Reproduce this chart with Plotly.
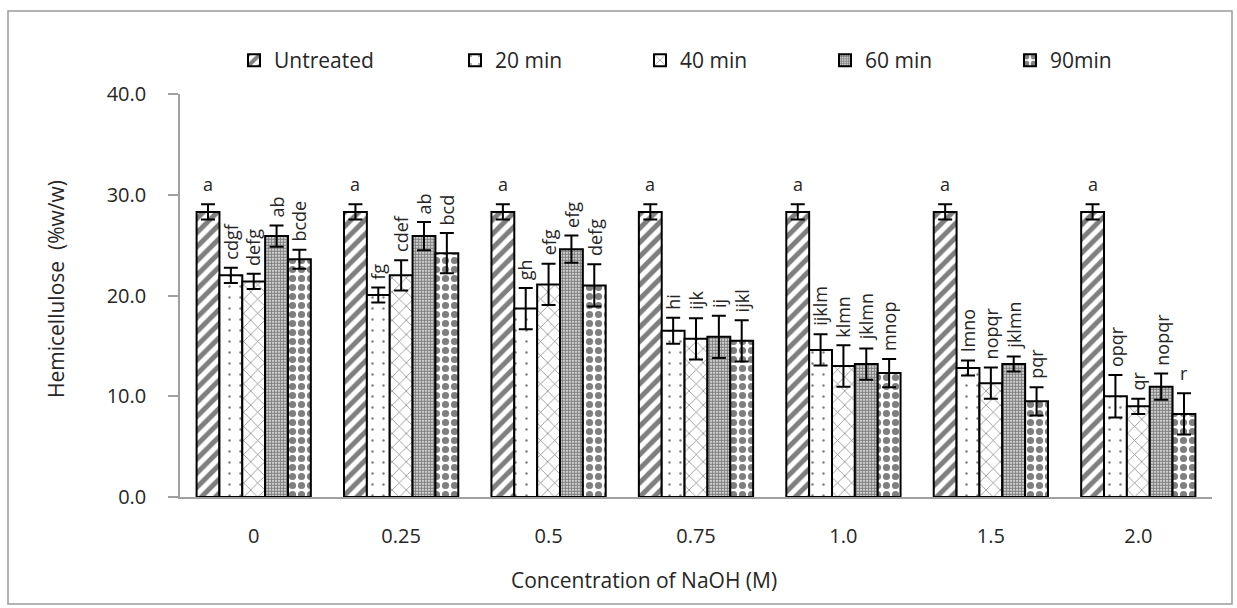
import plotly.graph_objects as go

categories = ["0", "0.25", "0.5", "0.75", "1.0", "1.5", "2.0"]
series_names = ["Untreated", "20 min", "40 min", "60 min", "90min"]

untreated = [28.3, 28.3, 28.3, 28.3, 28.3, 28.3, 28.3]
min20 = [22.0, 20.05, 18.7, 16.5, 14.6, 12.8, 10.0]
min40 = [21.4, 22.0, 21.1, 15.7, 13.0, 11.3, 9.0]
min60 = [25.9, 25.9, 24.6, 15.9, 13.2, 13.2, 10.95]
min90 = [23.6, 24.2, 21.0, 15.5, 12.3, 9.5, 8.25]

err_untreated = [0.75, 0.75, 0.75, 0.75, 0.75, 0.75, 0.75]
err20 = [0.75, 0.75, 2.05, 1.3, 1.55, 0.75, 2.1]
err40 = [0.75, 1.5, 2.05, 2.05, 2.05, 1.55, 0.75]
err60 = [1.05, 1.4, 1.35, 2.1, 1.55, 0.75, 1.3]
err90 = [0.95, 2.0, 2.1, 2.05, 1.4, 1.4, 2.05]

lab_untreated = ["a", "a", "a", "a", "a", "a", "a"]
lab20 = ["cdgf", "fg", "gh", "hi", "ijklm", "lmno", "opqr"]
lab40 = ["defg", "cdef", "efg", "ijk", "klmn", "nopqr", "qr"]
lab60 = ["ab", "ab", "efg", "ij", "jklmn", "jklmn", "nopqr"]
lab90 = ["bcde", "bcd", "defg", "ijkl", "mnop", "pqr", "r"]

values = [untreated, min20, min40, min60, min90]
errors = [err_untreated, err20, err40, err60, err90]
labels = [lab_untreated, lab20, lab40, lab60, lab90]

patterns = [
    dict(shape="/", size=10, solidity=0.5),
    dict(shape=".", size=11, solidity=0.04),
    dict(shape="x", size=10, solidity=0.14),
    dict(shape=".", size=3, solidity=0.7),
    dict(shape=".", size=9, solidity=0.5),
]

FONT = "Open Sans"
TXT = "#262626"
W, H = 1237, 608
ML, MR, MT, MB = 180, 25, 94, 111
PW, PH = W - ML - MR, H - MT - MB
BARGAP = 0.225
n = len(series_names)


def px_x(p):
    return (p - ML) / PW


def px_y(p):
    return (H - MB - p) / PH


xs = list(range(len(categories)))
fig = go.Figure()
for j in range(n):
    fig.add_trace(go.Bar(
        x=xs, y=values[j], name=series_names[j],
        legend="legend" if j == 0 else "legend2",
        marker=dict(color="white", line=dict(color="black", width=2),
                    pattern=dict(fgcolor="black", bgcolor="white", **patterns[j])),
        error_y=dict(type="data", array=errors[j], visible=True,
                     color="black", thickness=2, width=7),
    ))

bw = (1 - BARGAP) / n
for j in range(n):
    off = (j - (n - 1) / 2) * bw
    for i in xs:
        txt = labels[j][i]
        single = len(txt) == 1
        fig.add_annotation(
            x=i + off, y=values[j][i] + errors[j][i], xref="x", yref="y",
            text=txt, showarrow=False, yanchor="bottom", xanchor="center",
            textangle=0 if single else -90, yshift=6,
            font=dict(family=FONT, size=18, color=TXT),
        )

# axis titles
fig.add_annotation(x=px_x(644), y=px_y(580), xref="paper", yref="paper",
                   xanchor="center", yanchor="middle",
                   text="Concentration of NaOH (M)", showarrow=False,
                   font=dict(family=FONT, size=21, color=TXT))
fig.add_annotation(x=px_x(56), y=px_y(289), xref="paper", yref="paper",
                   xanchor="center", yanchor="middle", textangle=-90,
                   text="Hemicellulose  (%w/w)", showarrow=False,
                   font=dict(family=FONT, size=21, color=TXT))

# outer frame
fig.add_shape(type="rect", xref="paper", yref="paper",
              x0=px_x(8), x1=px_x(1232), y0=px_y(604), y1=px_y(11),
              line=dict(color="#9a9a9a", width=1.5), fillcolor="rgba(0,0,0,0)", layer="below")

fig.update_layout(
    width=W, height=H,
    margin=dict(l=ML, r=MR, t=MT, b=MB),
    paper_bgcolor="white", plot_bgcolor="white",
    barmode="group", bargap=BARGAP, bargroupgap=0,
    font=dict(family=FONT, size=20, color=TXT),
    xaxis=dict(tickmode="array", tickvals=xs, ticktext=categories,
               range=[-0.5, len(categories) - 0.5],
               showline=True, linecolor="#a0a0a0", linewidth=1.5,
               ticks="", showgrid=False, zeroline=False, ticklabelstandoff=20,
               tickfont=dict(family=FONT, size=20, color=TXT)),
    yaxis=dict(range=[0, 40], dtick=10, tickformat=".1f",
               showline=True, linecolor="#a0a0a0", linewidth=1.5,
               ticks="outside", ticklen=10, tickcolor="#a0a0a0", tickwidth=1.5,
               showgrid=False, zeroline=False, ticklabelstandoff=18,
               tickfont=dict(family=FONT, size=20, color=TXT)),
    legend=dict(orientation="h", x=px_x(234), y=px_y(40),
                xanchor="left", yanchor="top", bgcolor="rgba(0,0,0,0)",
                font=dict(family=FONT, size=21, color=TXT)),
    legend2=dict(orientation="h", x=px_x(455), y=px_y(40),
                 xanchor="left", yanchor="top", bgcolor="rgba(0,0,0,0)",
                 entrywidth=140, entrywidthmode="pixels",
                 font=dict(family=FONT, size=21, color=TXT)),
    showlegend=True,
)

fig.write_html("out.html")
